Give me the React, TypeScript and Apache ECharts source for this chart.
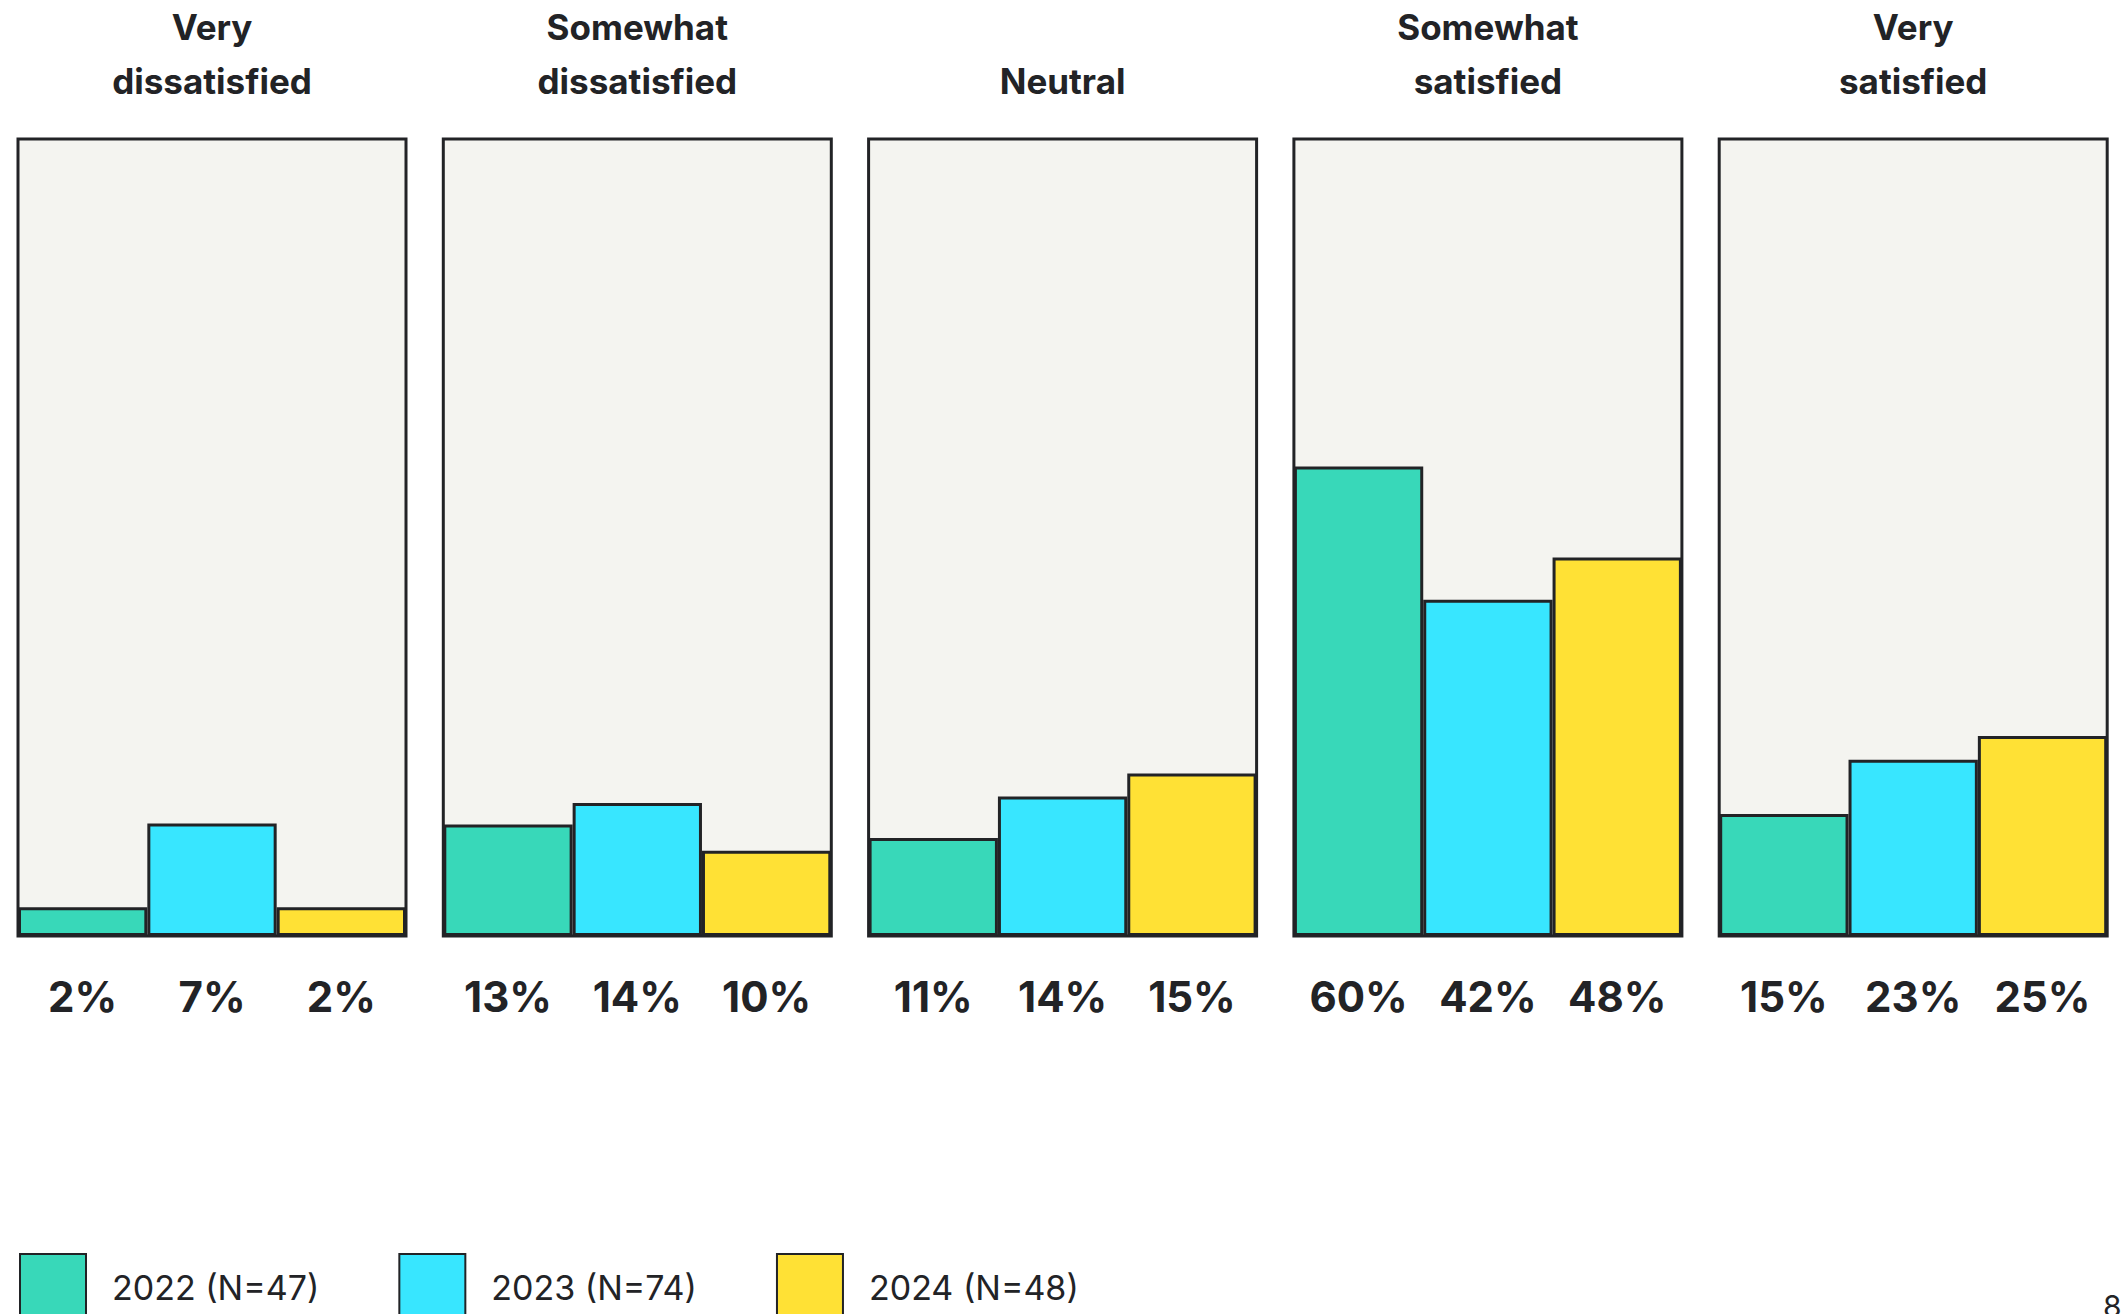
import React, { useEffect, useRef } from "react";
import * as echarts from "echarts";

// Panel titles (satisfaction levels)
const categories = [
  "Very\ndissatisfied",
  "Somewhat\ndissatisfied",
  "Neutral",
  "Somewhat\nsatisfied",
  "Very\nsatisfied",
];
// Years / legend entries
const years = ["2022 (N=47)", "2023 (N=74)", "2024 (N=48)"];
const yearKeys = ["2022", "2023", "2024"];

// Bar heights as drawn (percent of the panel height), per panel
const bars2022 = [3.6, 14.0, 12.3, 58.9, 15.3];
const bars2023 = [14.1, 16.7, 17.5, 42.2, 22.1];
const bars2024 = [3.6, 10.7, 20.4, 47.5, 25.1];

// Printed value labels, per panel
const labels2022 = ["2%", "13%", "11%", "60%", "15%"];
const labels2023 = ["7%", "14%", "14%", "42%", "23%"];
const labels2024 = ["2%", "10%", "15%", "48%", "25%"];

const colors = ["#38D8B9", "#38E6FF", "#FFE135"];
const INK = "#222326";
const FONT = "Inter, 'Noto Sans', sans-serif";

export default function App() {
  const ref = useRef<HTMLDivElement>(null);

  useEffect(() => {
    if (!ref.current) return;
    const chart = echarts.init(ref.current, undefined, { renderer: "svg" });

    const values = [bars2022, bars2023, bars2024];
    const labels = [labels2022, labels2023, labels2024];

    const panelLeft = 18;
    const stride = 425.3;
    const panelW = 388;
    const panelTop = 139;
    const panelH = 797;

    const grids: any[] = [];
    const xAxes: any[] = [];
    const yAxes: any[] = [];
    const series: any[] = [];
    const graphics: any[] = [];

    categories.forEach((cat, i) => {
      const left = panelLeft + i * stride;
      grids.push({
        left,
        top: panelTop,
        width: panelW,
        height: panelH,
        show: true,
        backgroundColor: "#F4F4F0",
        borderColor: INK,
        borderWidth: 3,
        containLabel: false,
      });
      xAxes.push({
        type: "category",
        gridIndex: i,
        data: yearKeys,
        axisLine: { show: false },
        axisTick: { show: false },
        axisLabel: {
          show: true,
          interval: 0,
          margin: 39,
          color: INK,
          fontFamily: FONT,
          fontWeight: "bold",
          fontSize: 42,
          lineHeight: 42,
          formatter: (_v: string, idx: number) => labels[idx][i],
        },
      });
      yAxes.push({
        type: "value",
        gridIndex: i,
        min: 0,
        max: 100,
        show: false,
        splitLine: { show: false },
      });
      years.forEach((name, j) => {
        series.push({
          name,
          type: "bar",
          xAxisIndex: i,
          yAxisIndex: i,
          stack: "p" + i,
          barCategoryGap: "0%",
          data: yearKeys.map((_, k) => (k === j ? values[j][i] : "-")),
          itemStyle: { color: colors[j], borderColor: INK, borderWidth: 3 },
          emphasis: { disabled: true },
        });
      });
      graphics.push({
        type: "text",
        x: left + panelW / 2,
        y: 107.5,
        style: {
          text: cat,
          textAlign: "center",
          textVerticalAlign: "bottom",
          fontFamily: FONT,
          fontWeight: "bold",
          fontSize: 35,
          lineHeight: 54,
          fill: INK,
        },
      });
    });

    graphics.push({
      type: "text",
      x: 2103,
      y: 1291,
      style: {
        text: "8",
        textAlign: "left",
        textVerticalAlign: "top",
        fontFamily: FONT,
        fontSize: 30,
        fill: INK,
      },
    });

    chart.setOption({
      animation: false,
      backgroundColor: "#FFFFFF",
      grid: grids,
      xAxis: xAxes,
      yAxis: yAxes,
      series,
      legend: {
        data: years,
        left: 19,
        top: 1253,
        orient: "horizontal",
        icon: "rect",
        itemWidth: 66,
        itemHeight: 66,
        itemGap: 79,
        selectedMode: false,
        padding: 0,
        textStyle: {
          color: INK,
          fontFamily: FONT,
          fontSize: 34,
          padding: [0, 0, 0, 21],
        },
      },
      graphic: graphics,
    });

    return () => chart.dispose();
  }, []);

  return (
    <div
      ref={ref}
      style={{ position: "fixed", left: 0, top: 0, width: 2121, height: 1314 }}
    />
  );
}
